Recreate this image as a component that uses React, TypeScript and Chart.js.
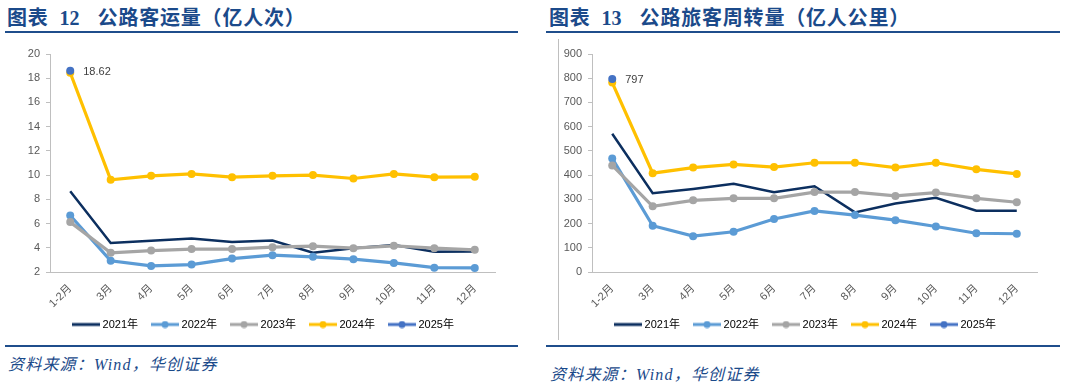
import React, { useEffect, useRef } from 'react';
import { Chart, registerables } from 'chart.js';

Chart.register(...registerables);

const months = ['1-2月', '3月', '4月', '5月', '6月', '7月', '8月', '9月', '10月', '11月', '12月'];
const seriesNames = ['2021年', '2022年', '2023年', '2024年', '2025年'];
const seriesColors = ['#0C2F5F', '#5B9BD5', '#A5A5A5', '#FFC000', '#4472C4'];

// 公路客运量（亿人次）
const vol2021 = [8.67, 4.39, 4.58, 4.77, 4.47, 4.6, 3.6, 3.97, 4.22, 3.67, 3.69];
const vol2022 = [6.67, 2.92, 2.5, 2.61, 3.11, 3.39, 3.25, 3.06, 2.75, 2.36, 2.34];
const vol2023 = [6.12, 3.58, 3.77, 3.89, 3.89, 4.05, 4.13, 3.97, 4.16, 3.97, 3.83];
const vol2024 = [18.45, 9.61, 9.94, 10.1, 9.83, 9.94, 10.0, 9.72, 10.1, 9.83, 9.86];
const vol2025 = [18.62, null, null, null, null, null, null, null, null, null, null];

// 公路旅客周转量（亿人公里）
const pkm2021 = [571, 325, 343, 364, 329, 354, 246, 283, 306, 253, 253];
const pkm2022 = [469, 191, 148, 166, 219, 252, 235, 214, 188, 160, 158];
const pkm2023 = [440, 271, 296, 304, 304, 330, 330, 314, 328, 304, 288];
const pkm2024 = [782, 408, 431, 444, 433, 451, 451, 431, 451, 424, 405];
const pkm2025 = [797, null, null, null, null, null, null, null, null, null, null];

const volLabel = '18.62';
const pkmLabel = '797';

const FONT = 'Arial, "Liberation Sans", "Noto Sans CJK SC", sans-serif';
const BLUE = '#1B4A8A';

function makeLegendImage(color: string, withDot: boolean) {
  const c = document.createElement('canvas');
  c.width = 28;
  c.height = 8;
  const ctx = c.getContext('2d')!;
  ctx.strokeStyle = color;
  ctx.lineWidth = 3;
  ctx.beginPath();
  ctx.moveTo(0, 4);
  ctx.lineTo(28, 4);
  ctx.stroke();
  if (withDot) {
    ctx.fillStyle = color;
    ctx.beginPath();
    ctx.arc(14, 4, 3.5, 0, Math.PI * 2);
    ctx.fill();
  }
  return c;
}

type PanelProps = {
  series: (number | null)[][];
  yMin: number;
  yMax: number;
  step: number;
  label: string;
  yWidth: number;
  padLeft: number;
  padRight: number;
  legendShift: number;
};

function LineChart({ series, yMin, yMax, step, label, yWidth, padLeft, padRight, legendShift }: PanelProps) {
  const ref = useRef<HTMLCanvasElement>(null);
  useEffect(() => {
    if (!ref.current) return;
    const images = seriesColors.map((c, i) => makeLegendImage(c, i !== 0));
    const labelPlugin = {
      id: 'pointLabel',
      afterLayout(chart: any) {
        if (chart.legend) {
          chart.legend.left += legendShift;
          chart.legend.right += legendShift;
          chart.legend.top -= 5;
          chart.legend.bottom -= 5;
        }
      },
      afterDatasetsDraw(chart: any) {
        const meta = chart.getDatasetMeta(4);
        const pt = meta.data[0];
        if (!pt) return;
        const ctx = chart.ctx;
        ctx.save();
        ctx.font = `11px ${FONT}`;
        ctx.fillStyle = '#404040';
        ctx.textAlign = 'left';
        ctx.textBaseline = 'middle';
        ctx.fillText(label, pt.x + 13, pt.y + 1);
        ctx.restore();
      },
    };
    const chart = new Chart(ref.current, {
      type: 'line',
      data: {
        labels: months,
        datasets: series.map((d, i) => ({
          label: seriesNames[i],
          data: d,
          borderColor: seriesColors[i],
          backgroundColor: seriesColors[i],
          borderWidth: i === 0 ? 2.5 : 3.2,
          pointRadius: i === 0 ? 0 : 4,
          pointHoverRadius: i === 0 ? 0 : 4,
          pointBorderWidth: 0,
          tension: 0,
          order: 5 - i,
          spanGaps: false,
        })),
      },
      options: {
        responsive: false,
        animation: false,
        layout: { padding: { top: 14, right: padRight, bottom: -5, left: padLeft } },
        plugins: {
          tooltip: { enabled: false },
          legend: {
            position: 'bottom',
            labels: {
              usePointStyle: true,
              pointStyleWidth: 22,
              padding: 16,
              color: '#404040',
              font: { family: FONT, size: 11 },
              generateLabels: () =>
                seriesNames.map((n, i) => ({
                  text: n,
                  pointStyle: images[i],
                  fillStyle: seriesColors[i],
                  strokeStyle: seriesColors[i],
                  lineWidth: 0,
                  hidden: false,
                  datasetIndex: i,
                })),
            },
          },
        },
        scales: {
          x: {
            type: 'category',
            offset: true,
            grid: { display: false },
            border: { display: true, color: '#BFBFBF', width: 1 },
            ticks: {
              maxRotation: 45,
              minRotation: 45,
              autoSkip: false,
              color: '#595959',
              padding: 2,
              font: { family: FONT, size: 11 },
            },
            afterFit: (s: any) => {
              s.height = 36;
            },
          },
          y: {
            min: yMin,
            max: yMax,
            grid: { drawOnChartArea: false, drawTicks: true, tickLength: 4, color: '#BFBFBF' },
            border: { display: true, color: '#BFBFBF', width: 1 },
            ticks: {
              stepSize: step,
              color: '#595959',
              padding: 6,
              font: { family: FONT, size: 11 },
            },
            afterFit: (s: any) => {
              s.width = yWidth;
            },
          },
        },
      },
      plugins: [labelPlugin],
    } as any);
    return () => chart.destroy();
  }, []);
  return <canvas ref={ref} width={533} height={300} style={{ display: 'block', width: 533, height: 300 }} />;
}

const titleStyle: React.CSSProperties = {
  position: 'absolute',
  top: 3,
  fontFamily: '"Noto Sans CJK SC", sans-serif',
  fontWeight: 700,
  fontSize: 20,
  letterSpacing: 0.8,
  color: BLUE,
  whiteSpace: 'nowrap',
  lineHeight: '27px',
};
const numStyle: React.CSSProperties = {
  fontFamily: '"Liberation Serif", "Times New Roman", serif',
  fontWeight: 700,
  fontSize: 20,
  letterSpacing: 0,
  margin: '0 18px 0 11px',
};
const sourceStyle: React.CSSProperties = {
  position: 'absolute',
  fontFamily: '"Liberation Serif", "Noto Sans CJK SC", serif',
  fontStyle: 'italic',
  fontSize: 16,
  color: BLUE,
  whiteSpace: 'nowrap',
  letterSpacing: 1.2,
};
const rule = (left: number, top: number, width: number): React.CSSProperties => ({
  position: 'absolute',
  left,
  top,
  width,
  height: 2,
  background: '#1F4E8C',
});

export default function App() {
  return (
    <div style={{ position: 'fixed', left: 0, top: 0, width: 1066, height: 388, background: '#fff', overflow: 'hidden' }}>
      <div style={{ ...titleStyle, left: 7 }}>
        图表<span style={numStyle}>12</span>公路客运量（亿人次）
      </div>
      <div style={rule(5, 31, 513)} />
      <div style={{ position: 'absolute', left: 0, top: 40 }}>
        <LineChart
          series={[vol2021, vol2022, vol2023, vol2024, vol2025]}
          yMin={2}
          yMax={20}
          step={2}
          label={volLabel}
          yWidth={42}
          padLeft={8}
          padRight={38}
          legendShift={13}
        />
      </div>
      <div style={rule(5, 345, 513)} />
      <div style={{ ...sourceStyle, left: 8, top: 351 }}>资料来源：Wind，华创证券</div>

      <div style={{ ...titleStyle, left: 549 }}>
        图表<span style={numStyle}>13</span>公路旅客周转量（亿人公里）
      </div>
      <div style={rule(546, 31, 514)} />
      <div style={{ position: 'absolute', left: 558, top: 39, width: 1, height: 301, background: '#BFBFBF' }} />
      <div style={{ position: 'absolute', left: 533, top: 40 }}>
        <LineChart
          series={[pkm2021, pkm2022, pkm2023, pkm2024, pkm2025]}
          yMin={0}
          yMax={900}
          step={100}
          label={pkmLabel}
          yWidth={52}
          padLeft={7}
          padRight={29}
          legendShift={18}
        />
      </div>
      <div style={rule(546, 345, 514)} />
      <div style={{ ...sourceStyle, left: 550, top: 361 }}>资料来源：Wind，华创证券</div>
    </div>
  );
}
